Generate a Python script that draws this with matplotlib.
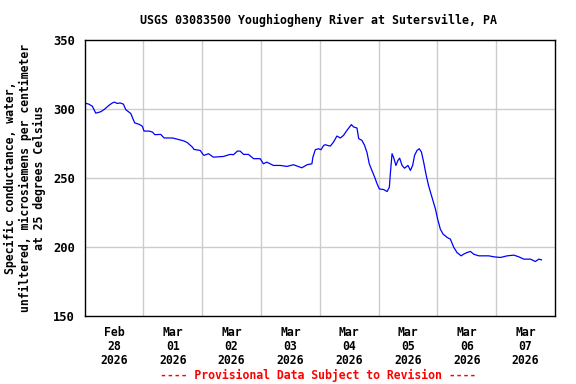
import matplotlib
matplotlib.use("Agg")
import matplotlib.pyplot as plt
import numpy as np
import pandas as pd

# hours since 2026-02-28 00:00 and specific conductance values
hours = [0, 1.8, 3.2, 4.6, 6.6, 8.0, 10.0, 11.4, 12.2, 13.4, 14.5, 15.9, 16.8, 18.9,
         19.5, 20.5, 22.3, 23.6, 24.3, 26.3, 27.7, 28.7, 31.1, 32.5, 35.9, 38.6,
         40.6, 42.0, 44.0, 44.7, 47.2, 48.4, 48.8, 50.6, 52.6, 56.7, 59.4, 60.8,
         62.4, 63.5, 64.9, 66.9, 69.0, 71.7, 73.0, 74.4, 77.1, 79.9, 82.6, 85.3,
         88.7, 90.8, 92.8, 93.2, 94.2, 95.5, 96.5, 97.6, 98.2, 100.3, 101.6, 103.0,
         104.4, 105.7, 107.1, 108.9, 109.8, 111.2, 111.9, 113.2, 114.3, 115.3,
         116.2, 117.3, 118.4, 119.4, 120.3, 122.1, 123.5, 124.4, 124.8, 125.5,
         126.1, 127.1, 127.9, 128.6, 129.6, 130.6, 132.0, 133.0, 133.9, 134.7,
         135.7, 136.6, 137.5, 138.4, 139.4, 140.4, 141.5, 142.2, 143.2, 144.1,
         145.2, 146.3, 148.0, 149.3, 150.7, 152.0, 153.7, 154.7, 156.1, 157.5,
         158.8, 160.9, 162.9, 165.0, 167.0, 169.7, 172.5, 175.2, 177.2, 179.3,
         182.0, 184.0, 185.4, 186.5]
values = [304.4, 303.5, 302.0, 297.0, 298.0, 299.6, 302.7, 304.4, 305.0, 304.0, 304.4,
          303.5, 299.6, 296.7, 294.0, 289.9, 288.9, 287.5, 284.0, 284.0, 283.3, 281.4,
          281.6, 279.0, 279.0, 277.8, 276.8, 275.6, 272.4, 270.7, 270.0, 267.0, 266.4,
          267.6, 265.1, 265.6, 267.1, 266.9, 269.5, 269.5, 267.1, 267.1, 264.0, 264.0,
          260.3, 261.5, 259.1, 259.1, 258.4, 259.6, 257.4, 259.6, 260.3, 265.1, 270.5,
          271.2, 270.5, 273.6, 274.1, 273.1, 276.0, 280.4, 279.0, 280.9, 284.5, 288.7,
          287.0, 286.2, 278.5, 277.3, 273.6, 268.3, 260.3, 255.4, 250.6, 245.8, 242.1,
          241.6, 240.2, 243.3, 253.0, 267.6, 265.1, 259.1, 262.7, 264.4, 259.1, 257.1,
          259.1, 255.5, 259.1, 266.4, 270.0, 271.2, 268.8, 261.5, 252.3, 244.5, 237.8,
          233.6, 227.6, 220.3, 213.0, 209.4, 206.9, 205.7, 199.7, 196.0, 193.6, 194.8,
          196.0, 196.8, 194.8, 193.6, 193.6, 193.6, 192.9, 192.4, 193.6, 194.1, 192.9,
          191.2, 191.2, 189.5, 191.2, 190.7]

start = pd.Timestamp("2026-02-28 00:00")
times = start + pd.to_timedelta(hours, unit="h")

y_ticks = [150, 200, 250, 300, 350]
title = "USGS 03083500 Youghiogheny River at Sutersville, PA"
ylabel = "Specific conductance, water,\nunfiltered, microsiemens per centimeter\nat 25 degrees Celsius"
footer = "---- Provisional Data Subject to Revision ----"

font = "DejaVu Sans Mono"
fig = plt.figure(figsize=(5.76, 3.84), dpi=100)
ax = fig.add_axes([84.5/576, 1 - 316/384, (555 - 84.5)/576, (316 - 40)/384])

ax.plot(times, values, color="#0000ff", lw=0.9)

ax.set_ylim(150, 350)
ax.set_yticks(y_ticks)
ax.set_xlim(start, start + pd.Timedelta(days=8))

days = [start + pd.Timedelta(days=i) for i in range(9)]
noons = [d + pd.Timedelta(hours=12) for d in days[:-1]]
ax.set_xticks(noons)
ax.set_xticklabels([d.strftime("%b\n%d\n%Y") for d in days[:-1]])
ax.tick_params(axis="x", which="both", length=0, pad=7)
ax.tick_params(axis="y", length=0, pad=7)
ax.grid(False)
for d in days[1:-1]:
    ax.axvline(d, color="#cccccc", lw=1, zorder=0)
for yv in y_ticks[1:-1]:
    ax.axhline(yv, color="#cccccc", lw=1, zorder=0)

for lab in ax.get_xticklabels():
    lab.set_fontfamily(font)
    lab.set_fontweight("bold")
    lab.set_fontsize(8.3)
    lab.set_linespacing(1.1)
for lab in ax.get_yticklabels():
    lab.set_fontfamily(font)
    lab.set_fontweight("bold")
    lab.set_fontsize(8.7)

for s in ax.spines.values():
    s.set_color("black")
    s.set_linewidth(1)

fig.text(319/576, 1 - 20/384, title, ha="center", va="center",
         fontfamily=font, fontweight="bold", fontsize=8.35)
fig.text(25/576, 1 - 178/384, ylabel, ha="center", va="center", rotation=90,
         multialignment="center", fontfamily=font, fontweight="bold", fontsize=8.3,
         linespacing=1.15)
fig.text(318/576, 1 - 375/384, footer, ha="center", va="center", color="red",
         fontfamily=font, fontweight="bold", fontsize=8.3)

fig.savefig("out.png", dpi=100)
